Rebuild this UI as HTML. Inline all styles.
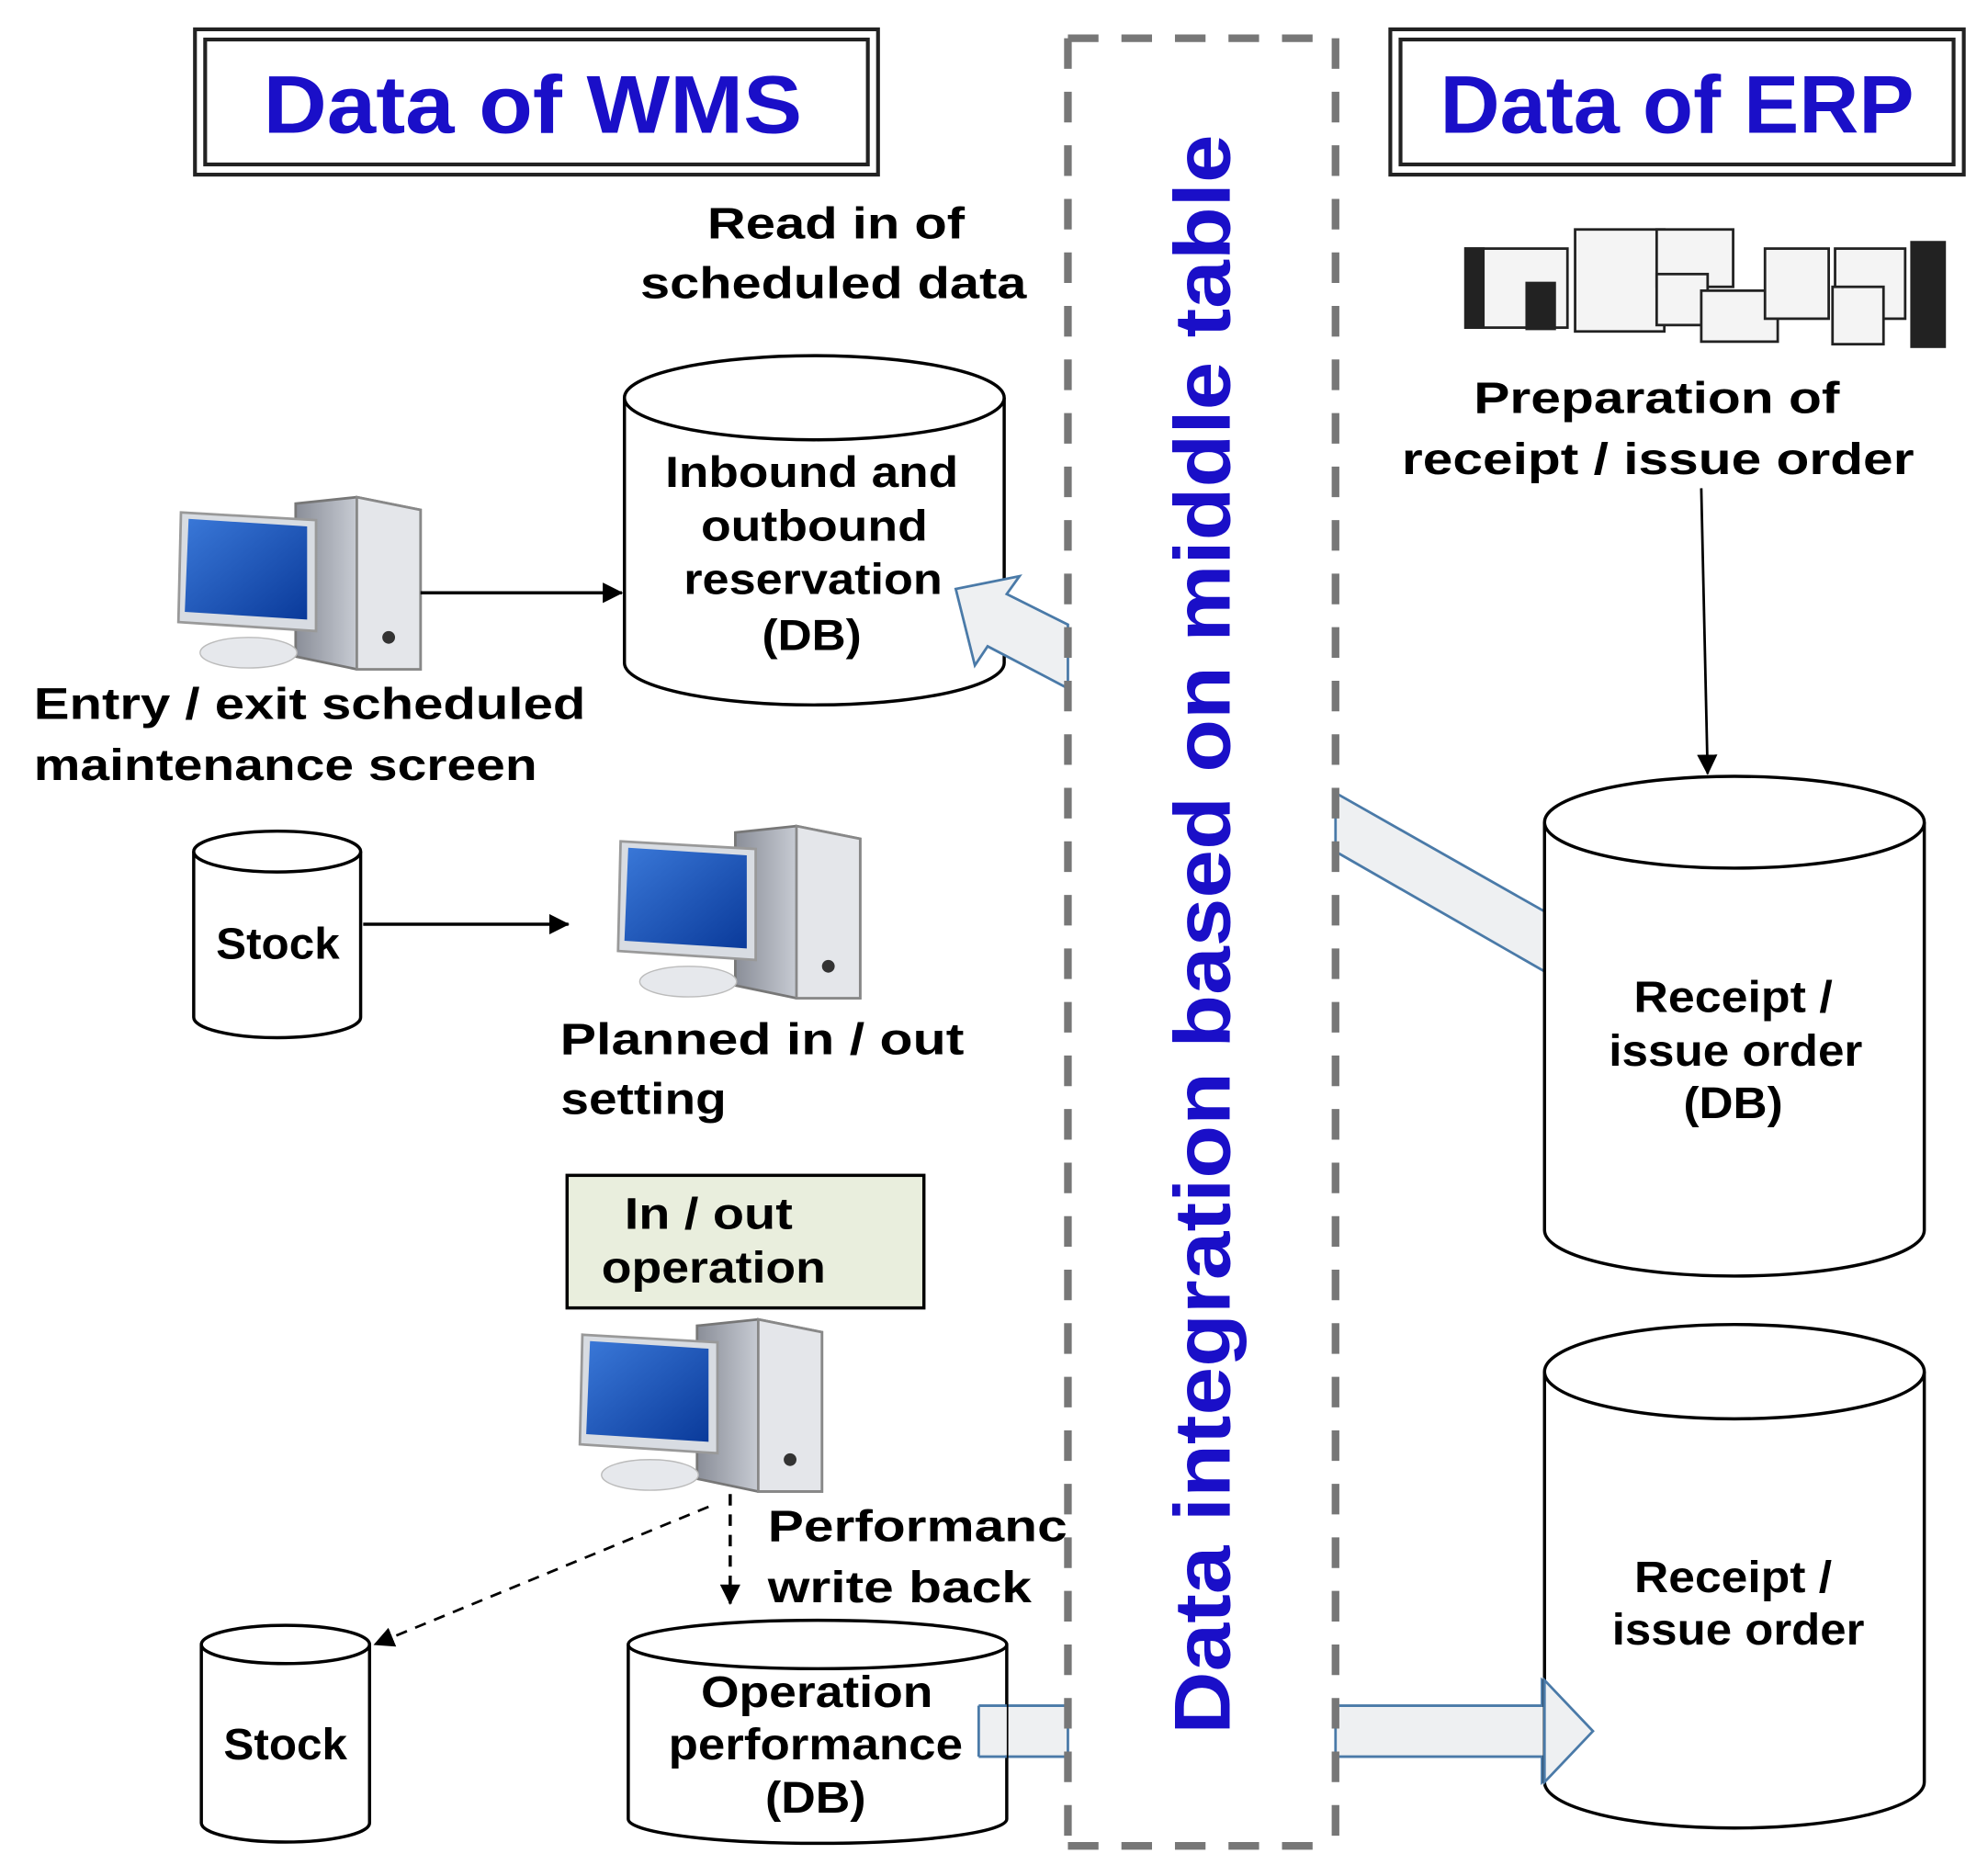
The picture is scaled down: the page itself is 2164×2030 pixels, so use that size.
<!DOCTYPE html>
<html><head><meta charset="utf-8"><style>
html,body{margin:0;padding:0;background:#fff;}
svg{display:block;}
text{font-family:"Liberation Sans",sans-serif;font-weight:bold;}
</style></head><body>
<svg width="2164" height="2030" viewBox="0 0 1560 1463" preserveAspectRatio="none" xmlns="http://www.w3.org/2000/svg">
<defs>
<linearGradient id="scr" x1="0" y1="0" x2="1" y2="1"><stop offset="0" stop-color="#3a78d8"/><stop offset="1" stop-color="#0a3a9a"/></linearGradient>
<linearGradient id="tw" x1="0" y1="0" x2="1" y2="0"><stop offset="0" stop-color="#8a8e98"/><stop offset="0.5" stop-color="#c8ccd4"/><stop offset="1" stop-color="#f0f2f6"/></linearGradient>
<g id="pc">
<polygon points="92,5 140,0 190,10 190,135 140,135 92,125" fill="url(#tw)" stroke="#777" stroke-width="2"/>
<polygon points="140,0 190,10 190,135 140,135" fill="#e4e6ea" stroke="#888" stroke-width="2"/>
<circle cx="165" cy="110" r="5" fill="#333"/>
<polygon points="2,12 108,18 108,105 0,98" fill="#d8dce2" stroke="#999" stroke-width="2"/>
<polygon points="8,17 101,23 101,96 5,90" fill="url(#scr)"/>
<ellipse cx="55" cy="122" rx="38" ry="12" fill="#e6e8ec" stroke="#bbb"/>
</g>
<marker id="ah2" markerWidth="16" markerHeight="16" refX="15" refY="8" orient="auto" markerUnits="userSpaceOnUse"><path d="M0,0 L16,8 L0,16 z" fill="#000"/></marker>
</defs>

<!-- titles -->
<rect x="153" y="23" width="536" height="114" fill="none" stroke="#222" stroke-width="3"/>
<rect x="161" y="31" width="520" height="98" fill="none" stroke="#222" stroke-width="3"/>
<text x="418" y="104" font-size="64" fill="#1a0fc8" text-anchor="middle" textLength="423" lengthAdjust="spacingAndGlyphs">Data of WMS</text>
<rect x="1091" y="23" width="450" height="114" fill="none" stroke="#222" stroke-width="3"/>
<rect x="1099" y="31" width="434" height="98" fill="none" stroke="#222" stroke-width="3"/>
<text x="1316" y="104" font-size="64" fill="#1a0fc8" text-anchor="middle" textLength="372" lengthAdjust="spacingAndGlyphs">Data of ERP</text>

<!-- block arrows -->
<polygon points="1048,622 1212,715 1212,762 1048,668" fill="#eef0f2" stroke="#4a7aa8" stroke-width="2"/>
<polygon points="768,1338 838,1338 838,1378 768,1378" fill="#eef0f2" stroke="#4a7aa8" stroke-width="2"/>
<polygon points="1048,1338 1210,1338 1210,1318 1250,1358 1210,1398 1210,1378 1048,1378" fill="#eef0f2" stroke="#4a7aa8" stroke-width="2"/>

<!-- left column texts -->
<g font-size="35" fill="#000" text-anchor="middle" lengthAdjust="spacingAndGlyphs">
<text x="656" y="187" textLength="202" lengthAdjust="spacingAndGlyphs">Read in of</text>
<text x="654" y="234" textLength="303" lengthAdjust="spacingAndGlyphs">scheduled data</text>
<text x="243" y="564" textLength="433" lengthAdjust="spacingAndGlyphs">Entry / exit scheduled</text>
<text x="224" y="612" textLength="395" lengthAdjust="spacingAndGlyphs">maintenance screen</text>
<text x="598" y="827" textLength="317" lengthAdjust="spacingAndGlyphs">Planned in / out</text>
<text x="505" y="874" textLength="130" lengthAdjust="spacingAndGlyphs">setting</text>
<text x="720" y="1209" textLength="235" lengthAdjust="spacingAndGlyphs">Performanc</text>
<text x="706" y="1257" textLength="207" lengthAdjust="spacingAndGlyphs">write back</text>
</g>

<!-- cylinder 1 -->
<path d="M490,312 L490,520 A149,33 0 0 0 788,520 L788,312" fill="#fff" stroke="#000" stroke-width="2.5"/>
<ellipse cx="639" cy="312" rx="149" ry="33" fill="#fff" stroke="#000" stroke-width="2.5"/>
<g font-size="34" fill="#000" text-anchor="middle">
<text x="637" y="382" textLength="230" lengthAdjust="spacingAndGlyphs">Inbound and</text>
<text x="639" y="424" textLength="178" lengthAdjust="spacingAndGlyphs">outbound</text>
<text x="638" y="466" textLength="203" lengthAdjust="spacingAndGlyphs">reservation</text>
<text x="637" y="510" textLength="78" lengthAdjust="spacingAndGlyphs">(DB)</text>
</g>
<polygon points="838,490 790,466 800,452 750,462 765,522 775,507 838,540" fill="#eef0f2" stroke="#4a7aa8" stroke-width="2"/>

<use href="#pc" x="140" y="390"/>
<line x1="330" y1="465" x2="488" y2="465" stroke="#000" stroke-width="2.5" marker-end="url(#ah2)"/>

<!-- stock 1 -->
<path d="M152,668 L152,798 A65.5,16 0 0 0 283,798 L283,668" fill="#fff" stroke="#000" stroke-width="2.5"/>
<ellipse cx="217.5" cy="668" rx="65.5" ry="16" fill="#fff" stroke="#000" stroke-width="2.5"/>
<text x="218" y="752" font-size="35" text-anchor="middle" textLength="97" lengthAdjust="spacingAndGlyphs">Stock</text>
<line x1="285" y1="725" x2="446" y2="725" stroke="#000" stroke-width="2.5" marker-end="url(#ah2)"/>
<use href="#pc" x="485" y="648"/>

<!-- in/out box -->
<rect x="445" y="922" width="280" height="104" fill="#e9eedd" stroke="#000" stroke-width="2.5"/>
<text x="490" y="964" font-size="35" textLength="132" lengthAdjust="spacingAndGlyphs">In / out</text>
<text x="472" y="1006" font-size="35" textLength="176" lengthAdjust="spacingAndGlyphs">operation</text>
<use href="#pc" x="455" y="1035"/>

<line x1="573" y1="1172" x2="573" y2="1258" stroke="#000" stroke-width="2.5" stroke-dasharray="9,7" marker-end="url(#ah2)"/>
<line x1="556" y1="1182" x2="294" y2="1290" stroke="#000" stroke-width="2" stroke-dasharray="9,7" marker-end="url(#ah2)"/>

<!-- stock 2 -->
<path d="M158,1290 L158,1430 A66,15 0 0 0 290,1430 L290,1290" fill="#fff" stroke="#000" stroke-width="2.5"/>
<ellipse cx="224" cy="1290" rx="66" ry="15" fill="#fff" stroke="#000" stroke-width="2.5"/>
<text x="224" y="1380" font-size="35" text-anchor="middle" textLength="97" lengthAdjust="spacingAndGlyphs">Stock</text>

<!-- operation performance -->
<path d="M493,1290 L493,1427 A148.5,19 0 0 0 790,1427 L790,1290" fill="#fff" stroke="#000" stroke-width="2.5"/>
<ellipse cx="641.5" cy="1290" rx="148.5" ry="19" fill="#fff" stroke="#000" stroke-width="2.5"/>
<rect x="768" y="1339" width="22" height="38" fill="#eef0f2"/>
<line x1="768" y1="1338" x2="768" y2="1378" stroke="#4a7aa8" stroke-width="2"/>
<line x1="768" y1="1338" x2="790" y2="1338" stroke="#4a7aa8" stroke-width="2"/>
<line x1="768" y1="1378" x2="790" y2="1378" stroke="#4a7aa8" stroke-width="2"/>
<g font-size="35" text-anchor="middle">
<text x="641" y="1339" textLength="182" lengthAdjust="spacingAndGlyphs">Operation</text>
<text x="640" y="1380" textLength="231" lengthAdjust="spacingAndGlyphs">performance</text>
<text x="640" y="1422" textLength="79" lengthAdjust="spacingAndGlyphs">(DB)</text>
</g>

<!-- middle dashed -->
<g stroke="#777" stroke-width="6" stroke-dasharray="24,18" fill="none">
<line x1="838" y1="30" x2="838" y2="1448"/>
<line x1="1048" y1="30" x2="1048" y2="1448"/>
<line x1="838" y1="30" x2="1048" y2="30"/>
<line x1="838" y1="1448" x2="1048" y2="1448"/>
</g>
<text transform="translate(965,733) rotate(-90)" font-size="62" fill="#1a0fc8" text-anchor="middle" textLength="1255" lengthAdjust="spacingAndGlyphs">Data integration based on middle table</text>

<!-- ERP picture -->
<g stroke="#222" stroke-width="2" fill="#f4f4f4">
<rect x="1150" y="195" width="80" height="62"/>
<rect x="1150" y="195" width="14" height="62" fill="#222"/>
<rect x="1198" y="222" width="22" height="36" fill="#222"/>
<rect x="1236" y="180" width="70" height="80"/>
<rect x="1300" y="180" width="60" height="45"/>
<rect x="1300" y="215" width="40" height="40"/>
<rect x="1335" y="228" width="60" height="40"/>
<rect x="1385" y="195" width="50" height="55"/>
<rect x="1440" y="195" width="55" height="55"/>
<rect x="1438" y="225" width="40" height="45"/>
<rect x="1500" y="190" width="26" height="82" fill="#222"/>
</g>
<text x="1300" y="324" font-size="35" text-anchor="middle" textLength="287" lengthAdjust="spacingAndGlyphs">Preparation of</text>
<text x="1301" y="372" font-size="35" text-anchor="middle" textLength="402" lengthAdjust="spacingAndGlyphs">receipt / issue order</text>
<line x1="1335" y1="383" x2="1340" y2="607" stroke="#000" stroke-width="2" marker-end="url(#ah2)"/>

<!-- receipt 1 -->
<path d="M1212,645 L1212,965 A149,36 0 0 0 1510,965 L1510,645" fill="#fff" stroke="#000" stroke-width="2.5"/>
<ellipse cx="1361" cy="645" rx="149" ry="36" fill="#fff" stroke="#000" stroke-width="2.5"/>
<g font-size="35" text-anchor="middle">
<text x="1360" y="794" textLength="156" lengthAdjust="spacingAndGlyphs">Receipt /</text>
<text x="1362" y="836" textLength="199" lengthAdjust="spacingAndGlyphs">issue order</text>
<text x="1360" y="877" textLength="78" lengthAdjust="spacingAndGlyphs">(DB)</text>
</g>

<!-- receipt 2 -->
<path d="M1212,1076 L1212,1398 A149,36 0 0 0 1510,1398 L1510,1076" fill="#fff" stroke="#000" stroke-width="2.5"/>
<ellipse cx="1361" cy="1076" rx="149" ry="37" fill="#fff" stroke="#000" stroke-width="2.5"/>
<polygon points="1212,1340 1212,1318 1250,1358 1212,1398 1212,1378" fill="#eef0f2" stroke="#4a7aa8" stroke-width="2"/>
<g font-size="35" text-anchor="middle">
<text x="1360" y="1249" textLength="155" lengthAdjust="spacingAndGlyphs">Receipt /</text>
<text x="1364" y="1290" textLength="198" lengthAdjust="spacingAndGlyphs">issue order</text>
</g>
</svg>
</body></html>
